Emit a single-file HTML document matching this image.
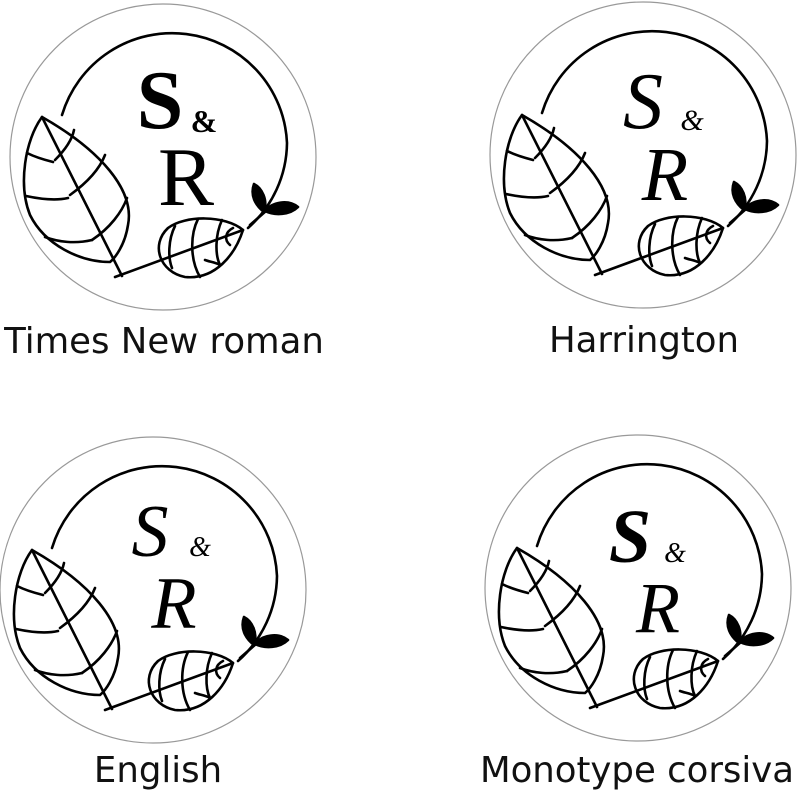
<!DOCTYPE html>
<html><head><style>
body{margin:0;background:#fff;width:800px;height:800px;overflow:hidden}
svg{display:block}
.lbl{font-family:"DejaVu Sans","Liberation Sans",sans-serif;font-size:35.5px;fill:#111}
</style></head><body>
<svg width="800" height="800" viewBox="0 0 800 800" xmlns="http://www.w3.org/2000/svg">
<defs>
<g id="w" fill="none" stroke="#000" stroke-width="2.6" stroke-linecap="round" stroke-linejoin="round">
<circle cx="163" cy="157" r="153" stroke="#999" stroke-width="1.2"/>
<path d="M62 115 A115 115 0 0 1 287 143 A115 115 0 0 1 248 228"/>
<!-- big leaf -->
<path d="M42 117 C100 150 135 190 128 225 C125 245 115 258 110 262 C80 262 45 245 30 215 C18 185 25 140 42 117 Z"/>
<path d="M42 117 L122 276"/>
<path d="M53 162 C45 160 35 157 27 153"/>
<path d="M55 160 C65 150 72 140 74 130"/>
<path d="M68 198 C55 201 40 199 26 196"/>
<path d="M70 195 C88 182 100 168 105 155"/>
<path d="M92 240 C75 244 58 242 45 237"/>
<path d="M92 240 C110 228 122 212 127 198"/>
<!-- stem line -->
<path d="M115 277 L243 230"/>
<!-- small leaf -->
<path d="M243 230 C225 215 185 215 168 228 C150 245 160 272 185 277 C215 280 235 255 243 230 Z"/>
<path d="M198 219 C190 235 190 260 200 277"/>
<path d="M222 220 C215 235 215 255 220 265 C215 262 210 262 205 260"/>
<path d="M175 226 C168 240 168 258 172 268"/>
<path d="M233 228 C225 232 224 240 230 245"/>
<!-- sprout -->
<path d="M250 225 L266 211"/>
<path d="M264 212 C255 205 250 195 254 184 C262 188 268 200 264 212 Z" fill="#000"/>
<path d="M265 211 C272 202 288 199 298 207 C290 215 275 216 265 211 Z" fill="#000"/>
</g>
</defs>

<use href="#w"/>
<text x="160" y="128" text-anchor="middle" font-family="Liberation Serif,serif" font-size="84" font-weight="bold">S</text>
<text x="204" y="132" text-anchor="middle" font-family="Liberation Serif,serif" font-size="32" font-weight="bold">&amp;</text>
<text x="186" y="205" text-anchor="middle" font-family="Liberation Serif,serif" font-size="84">R</text>
<text class="lbl" x="164" y="353" text-anchor="middle">Times New roman</text>

<g transform="translate(480,-2)"><use href="#w"/></g>
<text x="643" y="128" text-anchor="middle" font-family="Liberation Serif,serif" font-size="80" font-style="italic">S</text>
<text x="692" y="130" text-anchor="middle" font-family="Liberation Serif,serif" font-size="30" font-style="italic">&amp;</text>
<text x="665" y="200" text-anchor="middle" font-family="Liberation Serif,serif" font-size="76" font-style="italic">R</text>
<text class="lbl" x="644" y="352" text-anchor="middle">Harrington</text>

<g transform="translate(-10,433)"><use href="#w"/></g>
<text x="150" y="556" text-anchor="middle" font-family="Liberation Serif,serif" font-size="74" font-style="italic">S</text>
<text x="200" y="556" text-anchor="middle" font-family="Liberation Serif,serif" font-size="28" font-style="italic">&amp;</text>
<text x="174" y="628" text-anchor="middle" font-family="Liberation Serif,serif" font-size="74" font-style="italic">R</text>
<text class="lbl" x="158" y="782" text-anchor="middle">English</text>

<g transform="translate(475,431)"><use href="#w"/></g>
<text x="630" y="562" text-anchor="middle" font-family="Liberation Serif,serif" font-size="76" font-weight="bold" font-style="italic">S</text>
<text x="675" y="562" text-anchor="middle" font-family="Liberation Serif,serif" font-size="28" font-style="italic">&amp;</text>
<text x="658" y="632" text-anchor="middle" font-family="Liberation Serif,serif" font-size="72" font-style="italic">R</text>
<text class="lbl" x="637" y="782" text-anchor="middle">Monotype corsiva</text>
</svg>
</body></html>
